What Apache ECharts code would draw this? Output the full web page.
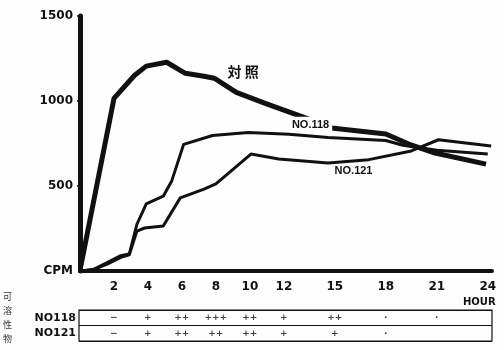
<!DOCTYPE html>
<html>
<head>
<meta charset="utf-8">
<script src="https://cdn.jsdelivr.net/npm/echarts@6/dist/echarts.min.js"></script>
<style>
html,body{margin:0;padding:0;background:#fdfdfd;}
#c{width:504px;height:350px;}
</style>
</head>
<body>
<div id="c"></div>
<script>
// ---- data (hours vs CPM) ----
const xTickValues = [2, 4, 6, 8, 10, 12, 15, 18, 21, 24];
const yTickValues = [0, 500, 1000, 1500];
const yTickLabels = ['CPM', '500', '1000', '1500'];

const controlHours = [0.05, 2, 3.2, 3.9, 5.1, 6.2, 7.3, 7.9, 9.2, 10.9, 13.35, 14.8, 18, 19.35, 20.9, 23.9];
const controlCPM   = [30, 1015, 1150, 1205, 1228, 1163, 1146, 1134, 1051, 986, 898, 841, 806, 747, 694, 629];

const no118Hours = [0.1, 0.8, 1.6, 2.4, 2.9, 3.35, 3.9, 4.9, 5.4, 6.1, 7.8, 9.9, 12.3, 14.6, 18, 19, 21, 24];
const no118CPM   = [0, 10, 50, 90, 100, 275, 395, 440, 530, 745, 797, 815, 805, 785, 768, 740, 710, 688];

const no121Hours = [0.1, 0.8, 1.6, 2.4, 2.9, 3.35, 3.8, 4.9, 5.9, 7.3, 8, 10.06, 11.7, 14.6, 17, 19.5, 21.1, 22.7, 24.2];
const no121CPM   = [0, 8, 40, 80, 95, 235, 253, 265, 430, 482, 512, 688, 659, 635, 655, 706, 772, 753, 735];

// table of reactions
const tableRows = ['NO118', 'NO121'];
const tableHours118 = [2, 4, 6, 8, 10, 12, 15, 18, 21];
const tableSigns118 = ['−', '+', '++', '+++', '++', '+', '++', '·', '·'];
const tableHours121 = [2, 4, 6, 8, 10, 12, 15, 18];
const tableSigns121 = ['−', '+', '++', '++', '++', '+', '+', '·'];

const zip = (a, b) => a.map((v, i) => [v, b[i]]);

const FONT = 'DejaVu Sans';
const INK = '#111';

const tableData = [];
tableHours118.forEach((h, i) => tableData.push([h, tableRows[0], tableSigns118[i]]));
tableHours121.forEach((h, i) => tableData.push([h, tableRows[1], tableSigns121[i]]));

const chart = echarts.init(document.getElementById('c'), null, {renderer: 'canvas'});
chart.setOption({
  backgroundColor: '#fdfdfd',
  animation: false,
  grid: [
    {left: 80, right: 12, top: 16, bottom: 79},
    {left: 79, right: 12, top: 310, height: 31, show: true, borderColor: INK, borderWidth: 1.2, backgroundColor: 'transparent'}
  ],
  xAxis: [
    {
      type: 'value', gridIndex: 0, min: 0, max: 24.25,
      axisLine: {show: true, onZero: false, lineStyle: {color: INK, width: 4}},
      axisTick: {show: false},
      splitLine: {show: false},
      axisLabel: {
        customValues: xTickValues, margin: 10,
        color: INK, fontFamily: FONT, fontWeight: 'bold', fontSize: 12
      }
    },
    {type: 'value', gridIndex: 1, min: -0.05, max: 24.25, show: false}
  ],
  yAxis: [
    {
      type: 'value', gridIndex: 0, min: 0, max: 1500,
      axisLine: {show: true, lineStyle: {color: INK, width: 5}},
      axisTick: {show: true, customValues: [500, 1000, 1500], length: 3, lineStyle: {color: INK, width: 1.5}},
      splitLine: {show: false},
      axisLabel: {
        customValues: yTickValues, margin: 7,
        color: INK, fontFamily: FONT, fontWeight: 'bold', fontSize: 12,
        formatter: v => yTickLabels[yTickValues.indexOf(v)]
      }
    },
    {
      type: 'category', gridIndex: 1, data: tableRows, inverse: true,
      axisLine: {show: false}, axisTick: {show: false},
      splitLine: {show: true, lineStyle: {color: INK, width: 1}},
      axisLabel: {margin: 3, color: INK, fontFamily: FONT, fontWeight: 'bold', fontSize: 11}
    }
  ],
  series: [
    {
      name: '対照', type: 'line', xAxisIndex: 0, yAxisIndex: 0,
      data: zip(controlHours, controlCPM), showSymbol: false, symbol: 'none',
      lineStyle: {color: INK, width: 5, join: 'round'}, z: 3,
      markPoint: {
        symbol: 'circle', symbolSize: 0, z: 10,
        data: [{coord: [9.6, 1172], value: '対照'}],
        label: {show: true, formatter: '対 照', color: INK, fontFamily: 'Noto Sans CJK JP', fontWeight: 'bold', fontSize: 14}
      }
    },
    {
      name: 'NO.118', type: 'line', xAxisIndex: 0, yAxisIndex: 0,
      data: zip(no118Hours, no118CPM), showSymbol: false, symbol: 'none',
      lineStyle: {color: INK, width: 3, join: 'round'}, z: 2,
      markPoint: {
        symbol: 'circle', symbolSize: 0, z: 10,
        data: [{coord: [13.6, 860], value: 'NO.118'}],
        label: {show: true, formatter: 'NO.118', color: INK, fontFamily: 'Liberation Sans', fontWeight: 'bold', fontSize: 11,
                backgroundColor: '#fdfdfd', padding: [5, 3, 0, 2]}
      }
    },
    {
      name: 'NO.121', type: 'line', xAxisIndex: 0, yAxisIndex: 0,
      data: zip(no121Hours, no121CPM), showSymbol: false, symbol: 'none',
      lineStyle: {color: INK, width: 3, join: 'round'}, z: 2,
      markPoint: {
        symbol: 'circle', symbolSize: 0, z: 10,
        data: [{coord: [16.1, 590], value: 'NO.121'}],
        label: {show: true, formatter: 'NO.121', color: INK, fontFamily: 'Liberation Sans', fontWeight: 'bold', fontSize: 11}
      }
    },
    {
      name: 'table', type: 'scatter', xAxisIndex: 1, yAxisIndex: 1,
      data: tableData, symbolSize: 0, encode: {x: 0, y: 1},
      label: {show: true, position: 'inside', formatter: p => p.value[2],
              color: INK, fontFamily: FONT, fontWeight: 'bold', fontSize: 9}
    }
  ],
  graphic: [
    {type: 'text', left: 463, top: 297, style: {text: 'HOUR', fill: INK, font: 'bold 10px "DejaVu Sans"'}},
    {type: 'text', left: 3, top: 290, style: {text: '可\n溶\n性\n物', fill: '#333', font: '9px "Noto Sans CJK JP"', lineHeight: 14}}
  ]
});
</script>
</body>
</html>
